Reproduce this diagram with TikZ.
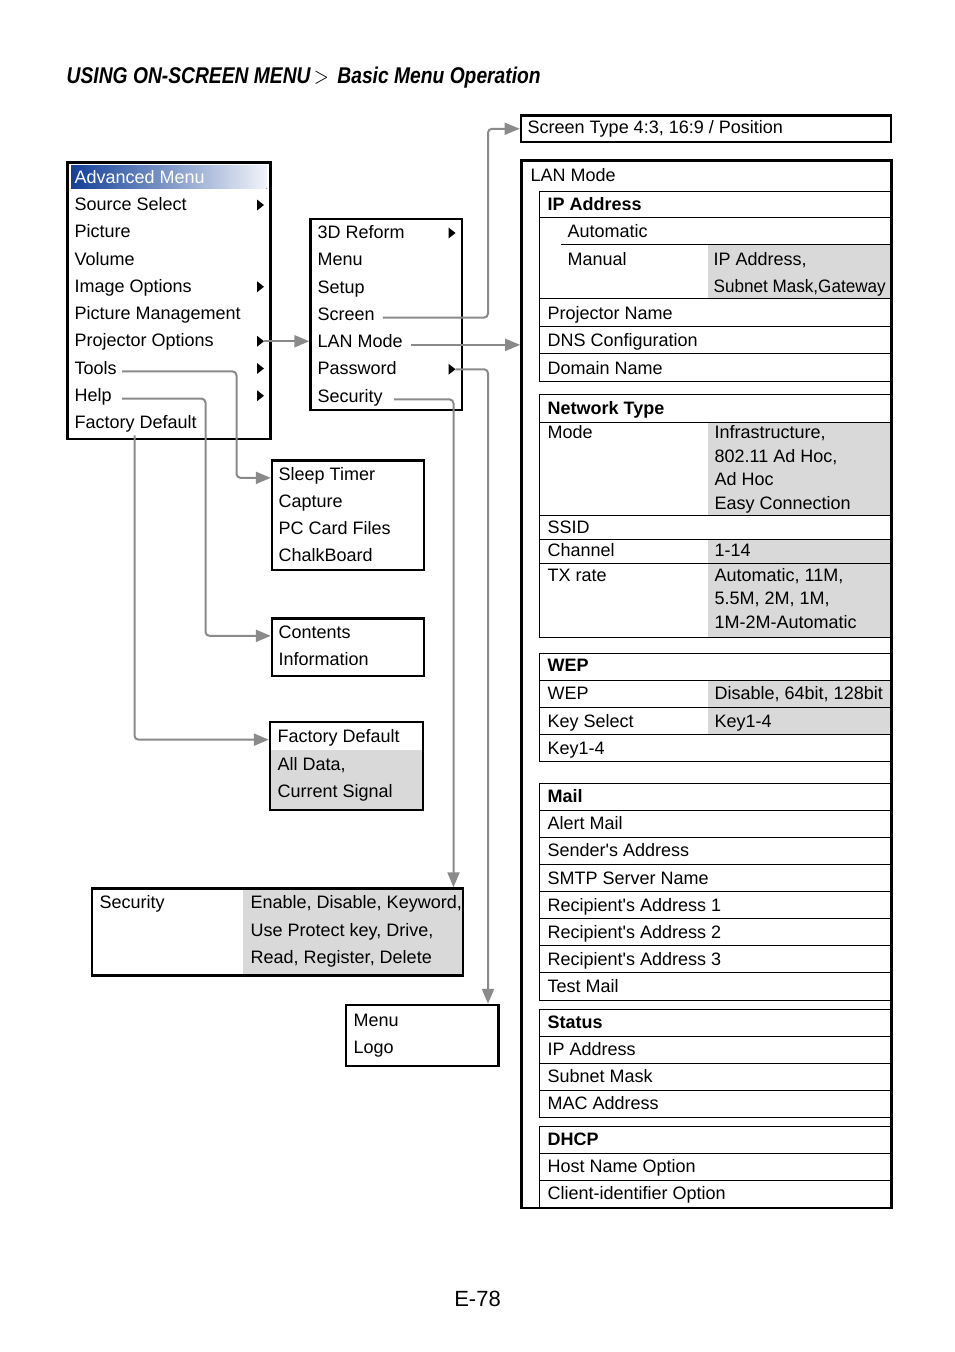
\documentclass[tikz,border=0pt]{standalone}
\usepackage{graphicx}
\usepackage{fontspec}
\setmainfont{Liberation Sans}
\usetikzlibrary{arrows.meta, calc, fit}
\definecolor{advblue}{HTML}{123F98}
\definecolor{cellgray}{HTML}{D9D9D9}
\definecolor{linkgray}{HTML}{8A8A8A}

\tikzset{
  item/.style={anchor=base west, inner sep=0pt, font=\fontsize{18}{21}\selectfont},
  head/.style={item, font=\fontsize{18}{21}\selectfont\bfseries},
  menubox/.style={draw=black, line width=2.4pt, inner sep=0pt},
  cell/.style={draw=black, line width=1pt},
  link/.style={draw=linkgray, line width=2pt, rounded corners=4pt,
               -{Triangle[length=15pt,width=12pt]}},
}
% small black marker for an entry with a submenu
\newcommand\submark[3]{\fill (#2,#3-11) -- (#2+7,#3-5.5) -- (#2,#3) -- cycle;
  \coordinate (#1) at (#2+7,#3-5.5);}

\begin{document}
\begin{tikzpicture}[x=1pt, y=-1pt]
\useasboundingbox (0,0) rectangle (954,1352);

\node[anchor=base west, inner sep=0pt] (title) at (66.5,83.5)
  {\resizebox{474pt}{16.5pt}{\bfseries\itshape USING ON-SCREEN MENU\,{\normalfont$>$}\, Basic Menu Operation}};

% advanced menu
\fill[left color=advblue, middle color=advblue!85!white, right color=advblue!6!white]
  (71,165.5) rectangle (266.5,188.5);
\node[menubox, line width=2.7pt, fit={(67.3,162.3) (270.7,439)}] (adv) {};
\node[item, text=white] (advhead) at (74.5,183.3) {Advanced Menu};
\foreach \txt [count=\i from 0] in {Source Select,Picture,Volume,Image Options,
    Picture Management,Projector Options,Tools,Help,Factory Default}
  \node[item] (adv\i) at (74.5,210.5+27.25*\i) {\txt};
\foreach \i in {0,3,5,6,7} {\submark{advm\i}{257}{210.5+27.25*\i}}

% projector options
\node[menubox, fit={(310.5,219) (462,410)}] (proj) {};
\foreach \txt [count=\i from 0] in {3D Reform,Menu,Setup,Screen,LAN Mode,Password,Security}
  \node[item] (pm\i) at (317.5,238.5+27.25*\i) {\txt};
\foreach \i in {0,5} {\submark{pmm\i}{448.5}{238.5+27.25*\i}}

% tools
\node[menubox, fit={(272,460.5) (424,570)}] (tools) {};
\foreach \txt [count=\i from 0] in {Sleep Timer,Capture,PC Card Files,ChalkBoard}
  \node[item] (tl\i) at (278.5,480.5+27*\i) {\txt};

% help
\node[menubox, fit={(272,618.5) (424,676)}] (help) {};
\foreach \txt [count=\i from 0] in {Contents,Information}
  \node[item] (hl\i) at (278.5,638.5+27*\i) {\txt};

% factory default
\fill[cellgray] (270,750) rectangle (423,810);
\node[menubox, fit={(270,722) (423,810)}] (fact) {};
\node[item] (fd0) at (277.5,742.3) {Factory Default};
\node[item] (fd1) at (277.5,770) {All Data,};
\node[item] (fd2) at (277.5,797) {Current Signal};

% security
\fill[cellgray] (243,888.5) rectangle (463,975.5);
\node[menubox, fit={(92,888.5) (463,975.5)}] (sec) {};
\node[item] (sc0) at (99.5,908.5) {Security};
\node[item] (sc1) at (250.5,908.5) {Enable, Disable, Keyword,};
\node[item] (sc2) at (250.5,936) {Use Protect key, Drive,};
\node[item] (sc3) at (250.5,963.5) {Read, Register, Delete};

% password
\node[menubox, fit={(346,1005) (498.5,1066)}] (pass) {};
\node[item] (pw0) at (353.5,1026.5) {Menu};
\node[item] (pw1) at (353.5,1053.5) {Logo};

% screen
\node[menubox, line width=2.7pt, fit={(521,115.5) (891,142)}] (scrt) {};
\node[item] (st0) at (527.5,133) {Screen Type 4:3, 16:9 / Position};

% LAN mode
\fill[cellgray] (708,245) rectangle (890,297.5);
\fill[cellgray] (708,422.5) rectangle (890,514.5);
\fill[cellgray] (708,539.5) rectangle (890,636.5);
\fill[cellgray] (708,680.5) rectangle (890,733.5);
\node[menubox, line width=2.7pt, fit={(521.5,160.5) (891.5,1208)}] (lan) {};
\node[item] (lantitle) at (530.5,181) {LAN Mode};

\draw[cell] (539.5,191) rectangle (891,381);
\draw[cell] (539.5,217.5) -- (891,217.5) (561,244.5) -- (891,244.5)
  (539.5,298) -- (891,298) (539.5,326) -- (891,326) (539.5,353.5) -- (891,353.5);
\node[head] (ip0) at (547.5,210.5) {IP Address};
\node[item] (ip1) at (567.5,237.5) {Automatic};
\node[item] (ip2) at (567.5,265.5) {Manual};
\node[item] (ip3) at (713.5,265.5) {IP Address,};
\node[item] (ip4) at (713.5,292.5) {\scalebox{0.95}[1]{Subnet Mask,Gateway}};
\node[item] (ip5) at (547.5,319.5) {Projector Name};
\node[item] (ip6) at (547.5,346.5) {DNS Configuration};
\node[item] (ip7) at (547.5,374.5) {Domain Name};

\draw[cell] (539.5,394) rectangle (891,637);
\draw[cell] (539.5,422) -- (891,422) (539.5,515) -- (891,515)
  (539.5,539) -- (891,539) (539.5,563) -- (891,563);
\node[head] (nt0) at (547.5,414.5) {Network Type};
\node[item] (nt1) at (547.5,438.5) {Mode};
\node[item] (nt2) at (714.5,438.5) {Infrastructure,};
\node[item] (nt3) at (714.5,462) {802.11 Ad Hoc,};
\node[item] (nt4) at (714.5,485.5) {Ad Hoc};
\node[item] (nt5) at (714.5,509.5) {Easy Connection};
\node[item] (nt6) at (547.5,533.5) {SSID};
\node[item] (nt7) at (547.5,556.5) {Channel};
\node[item] (nt8) at (714.5,556.5) {1-14};
\node[item] (nt9) at (547.5,581.5) {TX rate};
\node[item] (nt10) at (714.5,581.5) {Automatic, 11M,};
\node[item] (nt11) at (714.5,604.5) {5.5M, 2M, 1M,};
\node[item] (nt12) at (714.5,628.5) {1M-2M-Automatic};

\draw[cell] (539.5,653) rectangle (891,761);
\draw[cell] (539.5,680) -- (891,680) (539.5,707) -- (891,707) (539.5,734) -- (891,734);
\node[head] (wp0) at (547.5,671.5) {WEP};
\node[item] (wp1) at (547.5,699.5) {WEP};
\node[item] (wp2) at (714.5,699.5) {Disable, 64bit, 128bit};
\node[item] (wp3) at (547.5,727.5) {Key Select};
\node[item] (wp4) at (714.5,727.5) {Key1-4};
\node[item] (wp5) at (547.5,754.5) {Key1-4};

\foreach \txt [count=\i from 0] in {\textbf{Mail},Alert Mail,Sender\textquotesingle s Address,
    SMTP Server Name,Recipient\textquotesingle s Address 1,Recipient\textquotesingle s Address 2,
    Recipient\textquotesingle s Address 3,Test Mail} {
  \draw[cell] (539.5,783+27.125*\i) rectangle (891,810.125+27.125*\i);
  \node[item] (ml\i) at (547.5,802.7+27.125*\i) {\txt};
}
\foreach \txt [count=\i from 0] in {\textbf{Status},IP Address,Subnet Mask,MAC Address} {
  \draw[cell] (539.5,1009+27*\i) rectangle (891,1036+27*\i);
  \node[item] (stt\i) at (547.5,1028.7+27*\i) {\txt};
}
\foreach \txt [count=\i from 0] in {\textbf{DHCP},Host Name Option,Client-identifier Option} {
  \draw[cell] (539.5,1126+27.2*\i) rectangle (891,1153.2+27.2*\i);
  \node[item] (dh\i) at (547.5,1145.2+27.2*\i) {\txt};
}

% connectors
\coordinate (railT) at (122,0);
\coordinate (railTools) at (236.5,0);
\coordinate (railHelp) at (205.5,0);
\coordinate (railFact) at (134.5,0);
\coordinate (railScr) at (488,0);
\coordinate (railSec) at (453.5,0);

\draw[link] (advm5) -- (proj.west |- advm5);
\draw[link] (railT |- adv6.mid east) -| (railTools |- tl0.mid) -- (tools.west |- tl0.mid);
\draw[link] (railT |- adv7.mid east) -| (railHelp |- hl0.mid) -- (help.west |- hl0.mid);
\draw[link] ($(railFact |- adv8.south)+(0,3)$) |- (fact.west |- fd0.mid);
\draw[link] ($(pm3.mid east)+(8,0)$) -| (railScr |- scrt.west) -- (scrt.west);
\draw[link] ($(pm4.mid east)+(8,0)$) -- (lan.west |- pm4.mid east);
\draw[link] (pmm5) -| (railScr |- pass.north);
\draw[link] ($(pm6.mid east)+(11,0)$) -| (railSec |- sec.north);

\node[anchor=base, inner sep=0pt, font=\fontsize{22}{26}\selectfont] (page) at (477.5,1306) {E-78};
\end{tikzpicture}
\end{document}
